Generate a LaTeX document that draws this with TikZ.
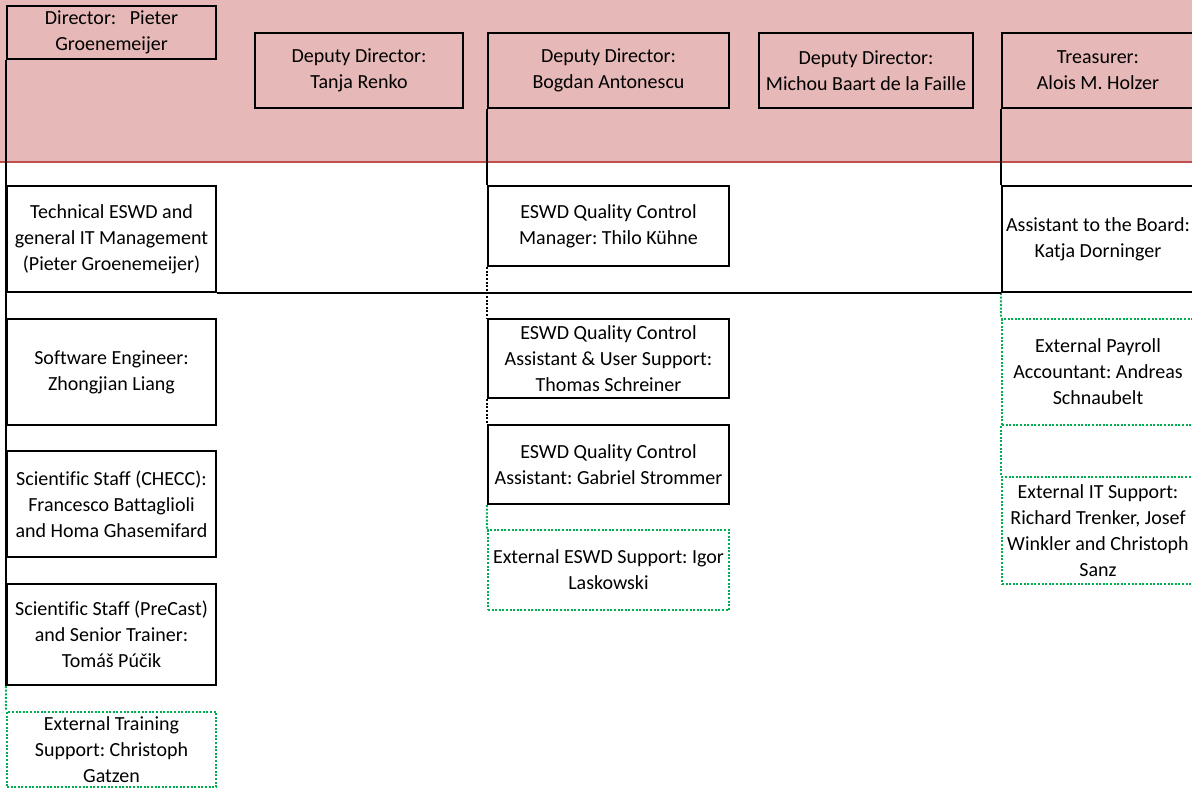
\documentclass[tikz,border=0pt]{standalone}
\usepackage{fontspec}
\setmainfont{Carlito}[Ligatures=CommonOff]
\frenchspacing
\definecolor{bandpink}{HTML}{E6B8B7}
\definecolor{bandred}{HTML}{C0504D}
\definecolor{extgreen}{HTML}{00B050}

\begin{document}
\begin{tikzpicture}[x=0.75pt,y=-0.75pt,
    every node/.style={font=\fontsize{15}{19.5}\selectfont},
    boxsize/.style 2 args={minimum width=#1*0.75pt,minimum height=#2*0.75pt},
    post/.style={draw,line width=1.7pt,inner sep=0pt,align=center},
    extpost/.style={post,draw=extgreen,line width=1.5pt,dash pattern=on 1.5pt off 1.2pt},
    solidlink/.style={line width=1.7pt},
    dotlink/.style={line width=1.5pt,dash pattern=on 1.5pt off 1.2pt},
    extlink/.style={dotlink,draw=extgreen}]

    \useasboundingbox (0,0) rectangle (1192,789);
    \clip (0,0) rectangle (1192,789);

    % board band
    \fill[bandpink] (0,0) rectangle (1192,162);
    \draw[bandred,line width=1.8pt] (0,162) -- (1192,162);

    % board members
    \node[post,boxsize={209}{53}] (dir) at (111.5,32.5) {Director:~~~Pieter\\Groenemeijer};
    \node[post,boxsize={208}{75}] (tanja) at (359,70.5) {Deputy Director:\\Tanja Renko};
    \node[post,boxsize={241}{75}] (bogdan) at (608.5,70.5) {Deputy Director:\\Bogdan Antonescu};
    \node[post,boxsize={214}{75}] (michou) at (866,70.5) {Deputy Director:\\Michou Baart de la Faille};
    \node[post,boxsize={192}{75}] (treas) at (1098,70.5) {Treasurer:\\Alois M. Holzer};

    % director column
    \node[post,boxsize={209}{106}] (tech) at (111.5,239) {Technical ESWD and\\general IT Management\\(Pieter Groenemeijer)};
    \node[post,boxsize={209}{106}] (soft) at (111.5,372) {Software Engineer:\\Zhongjian Liang};
    \node[post,boxsize={209}{106}] (checc) at (111.5,504) {Scientific Staff (CHECC):\\Francesco Battaglioli\\and Homa Ghasemifard};
    \node[post,boxsize={209}{101}] (precast) at (111.5,634.5) {Scientific Staff (PreCast)\\and Senior Trainer:\\Tomáš Púčik};
    \node[extpost,boxsize={209}{75}] (training) at (111.5,749.5) {External Training\\Support: Christoph\\Gatzen};

    % deputy column
    \node[post,boxsize={241}{80}] (thilo) at (608.5,226) {ESWD Quality Control\\Manager: Thilo Kühne};
    \node[post,boxsize={241}{79}] (thomas) at (608.5,358.5) {ESWD Quality Control\\Assistant \& User Support:\\Thomas Schreiner};
    \node[post,boxsize={241}{79}] (gabriel) at (608.5,464.5) {ESWD Quality Control\\Assistant: Gabriel Strommer};
    \node[extpost,boxsize={241}{80}] (igor) at (608.5,570) {External ESWD Support: Igor\\Laskowski};

    % treasurer column
    \node[post,boxsize={192}{106}] (assist) at (1098,239) {Assistant to the Board:\\Katja Dorninger};
    \node[extpost,boxsize={192}{106}] (payroll) at (1098,372) {External Payroll\\Accountant: Andreas\\Schnaubelt};
    \node[extpost,boxsize={192}{107}] (itsup) at (1098,530.5) {External IT Support:\\Richard Trenker, Josef\\Winkler and Christoph\\Sanz};

    % connectors
    \draw[solidlink] (dir.south west) -- (precast.south west);
    \draw[extlink] (precast.south west) -- (training.north west);
    \draw[solidlink] (bogdan.south west) -- (thilo.north west);
    \draw[dotlink] (thilo.south west) -- (thomas.north west);
    \draw[dotlink] (thomas.south west) -- (gabriel.north west);
    \draw[extlink] (gabriel.south west) -- (igor.north west);
    \draw[solidlink] (treas.south west) -- (assist.north west);
    \draw[extlink] (assist.south west) -- (payroll.north west);
    \draw[extlink] (payroll.south west) -- (itsup.north west);
    \draw[solidlink] (tech.south east) -- (assist.south west);

\end{tikzpicture}
\end{document}
